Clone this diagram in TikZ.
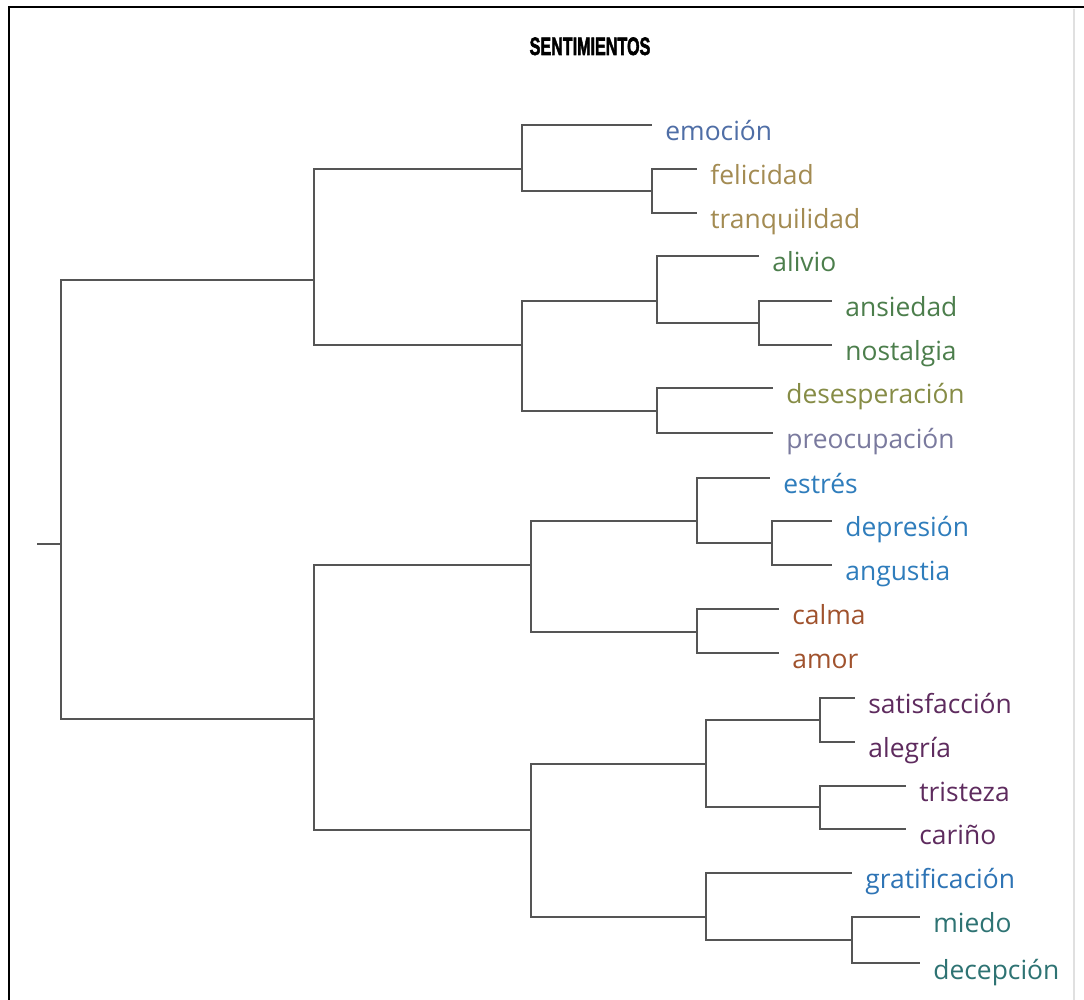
\documentclass[tikz,border=0pt]{standalone}
\usepackage{fontspec}
\setmainfont{Open Sans}
\newfontfamily\titlefont[BoldFeatures={FakeBold=2.5}]{Liberation Sans}
\usepackage{tikz}
\definecolor{treeGray}{HTML}{555555}
\definecolor{cEmo}{HTML}{4F6EA6}
\definecolor{cTan}{HTML}{A38B52}
\definecolor{cGreen}{HTML}{4C7E4C}
\definecolor{cOlive}{HTML}{868C46}
\definecolor{cLav}{HTML}{7A7A9E}
\definecolor{cBlue}{HTML}{2F7DBC}
\definecolor{cBrown}{HTML}{A0522D}
\definecolor{cPurple}{HTML}{5E2B5E}
\definecolor{cGrat}{HTML}{2E74B5}
\definecolor{cTeal}{HTML}{2E7373}
\tikzset{
  treeLine/.style={draw=treeGray, line width=1.45pt},
  frameLine/.style={draw=black, line width=1.2pt},
  leafLabel/.style={anchor=base west, inner sep=0pt, xshift=6.5pt, yshift=-8pt,
    font=\fontsize{13.2}{16}\selectfont},
  titleText/.style={anchor=base, inner sep=0pt,
    font=\titlefont\bfseries\fontsize{12.6}{15}\selectfont}
}

\begin{document}
\begin{tikzpicture}[x=0.5pt, y=0.5pt]
  \useasboundingbox[fill=white] (0,0) rectangle (1084,-1000);

  % frame
  \draw[frameLine] (9,-1000) -- (9,-7) -- (1084,-7);
  \draw[draw=black!12, line width=0.8pt] (1074,-9) -- (1074,-1000);

  \node[titleText] (title) at (590,-55) {\scalebox{0.64}[1]{SENTIMIENTOS}};

  % junctions
  \coordinate (stub) at (37,-544);
  \coordinate (root) at (61,-544);
  \coordinate (A) at (314,-280);
  \coordinate (B) at (314,-719);
  \coordinate (A1) at (522,-169);
  \coordinate (A1b) at (652,-191);
  \coordinate (A2) at (522,-345);
  \coordinate (A2a) at (657,-301);
  \coordinate (A2a2) at (759,-323);
  \coordinate (A2b) at (657,-411);
  \coordinate (B1) at (531,-565);
  \coordinate (B1a) at (697,-521);
  \coordinate (B1a2) at (772,-543);
  \coordinate (B1b) at (697,-632);
  \coordinate (B2) at (531,-830);
  \coordinate (B2a) at (706,-764);
  \coordinate (B2a1) at (820,-720);
  \coordinate (B2a2) at (820,-807);
  \coordinate (B2b) at (706,-917);
  \coordinate (B2b2) at (852,-940);

  % leaves
  \foreach \n/\px/\py/\c/\t in {
      emocion/652/125/cEmo/emoción,
      felicidad/697/169/cTan/felicidad,
      tranquilidad/697/213/cTan/tranquilidad,
      alivio/759/256/cGreen/alivio,
      ansiedad/832/301/cGreen/ansiedad,
      nostalgia/832/345/cGreen/nostalgia,
      desesperacion/773/388/cOlive/desesperación,
      preocupacion/773/433/cLav/preocupación,
      estres/770/478/cBlue/estrés,
      depresion/832/521/cBlue/depresión,
      angustia/832/565/cBlue/angustia,
      calma/779/609/cBrown/calma,
      amor/779/653/cBrown/amor,
      satisfaccion/855/698/cPurple/satisfacción,
      alegria/855/742/cPurple/alegría,
      tristeza/906/786/cPurple/tristeza,
      carino/906/829/cPurple/cariño,
      gratificacion/852/873/cGrat/gratificación,
      miedo/920/917/cTeal/miedo,
      decepcion/920/963/cTeal/decepción}{
    \coordinate (\n) at (\px,-\py);
    \node[leafLabel, text=\c] (\n T) at (\n) {\t};
  }

  \draw[treeLine] (stub) -- (root);
  \foreach \p/\k in {root/A, root/B,
      A/A1, A/A2, A1/emocion, A1/A1b, A1b/felicidad, A1b/tranquilidad,
      A2/A2a, A2/A2b, A2a/alivio, A2a/A2a2, A2a2/ansiedad, A2a2/nostalgia,
      A2b/desesperacion, A2b/preocupacion,
      B/B1, B/B2, B1/B1a, B1/B1b, B1a/estres, B1a/B1a2,
      B1a2/depresion, B1a2/angustia, B1b/calma, B1b/amor,
      B2/B2a, B2/B2b, B2a/B2a1, B2a/B2a2,
      B2a1/satisfaccion, B2a1/alegria, B2a2/tristeza, B2a2/carino,
      B2b/gratificacion, B2b/B2b2, B2b2/miedo, B2b2/decepcion}
    \draw[treeLine] (\p) |- (\k);
\end{tikzpicture}
\end{document}
